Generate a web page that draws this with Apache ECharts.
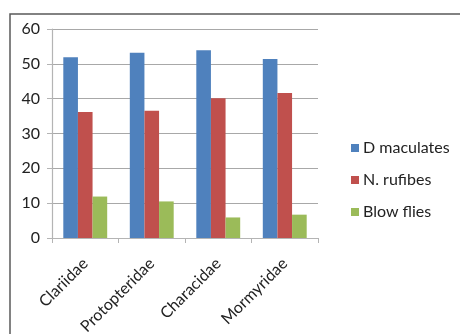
<!DOCTYPE html>
<html>
<head>
<meta charset="utf-8">
<script src="https://cdn.jsdelivr.net/npm/echarts@6/dist/echarts.min.js"></script>
<style>
  html, body { margin: 0; padding: 0; background: #fff; }
  #chart { width: 460px; height: 334px; }
</style>
</head>
<body>
<div id="chart"></div>
<script>
// Fish families and the three measured series
const families = ['Clariidae', 'Protopteridae', 'Characidae', 'Mormyridae'];
const dMaculates = [51.9, 53.2, 53.9, 51.4];
const nRufibes = [36.2, 36.5, 40.1, 41.6];
const blowFlies = [11.9, 10.5, 5.9, 6.7];
const seriesNames = ['D maculates', 'N. rufibes', 'Blow flies'];
const seriesColors = ['#4F81BD', '#C0504D', '#9BBB59'];

const font = 'Lato, "Open Sans", sans-serif';
const chart = echarts.init(document.getElementById('chart'), null, { renderer: 'canvas' });

function bar(name, data, color) {
  return {
    name: name,
    type: 'bar',
    data: data,
    barGap: '0%',
    barCategoryGap: '34%',
    itemStyle: { color: color },
    emphasis: { disabled: true }
  };
}

chart.setOption({
  animation: false,
  graphic: [{
    type: 'rect',
    shape: { x: 10, y: 14, width: 470, height: 340 },
    style: { fill: 'none', stroke: '#595959', lineWidth: 1.5 },
    z: 100
  }],
  grid: { left: 52, top: 29, width: 266, height: 209, outerBoundsMode: 'none', containLabel: false },
  legend: {
    orient: 'vertical',
    left: 346,
    top: 134,
    itemWidth: 8,
    itemHeight: 8,
    itemGap: 14,
    icon: 'rect',
    data: seriesNames,
    textStyle: { fontFamily: font, fontSize: 16, color: '#222', lineHeight: 18, padding: [0, 0, 0, -1] }
  },
  xAxis: {
    type: 'category',
    data: families,
    axisLine: { lineStyle: { color: '#b4b4b4', width: 1.2 } },
    axisTick: { show: true, length: 5, alignWithLabel: false, lineStyle: { color: '#b4b4b4' } },
    axisLabel: { rotate: 45, margin: 23, fontFamily: font, fontSize: 16, color: '#222', interval: 0 }
  },
  yAxis: {
    type: 'value',
    min: 0,
    max: 60,
    interval: 10,
    axisLine: { show: true, lineStyle: { color: '#b4b4b4', width: 1.2 } },
    axisTick: { show: true, length: 5, lineStyle: { color: '#b4b4b4' } },
    axisLabel: { margin: 12, fontFamily: font, fontSize: 16, color: '#222' },
    splitLine: { lineStyle: { color: '#a8a8a8', width: 1 } }
  },
  series: [
    bar(seriesNames[0], dMaculates, seriesColors[0]),
    bar(seriesNames[1], nRufibes, seriesColors[1]),
    bar(seriesNames[2], blowFlies, seriesColors[2])
  ]
});
</script>
</body>
</html>
